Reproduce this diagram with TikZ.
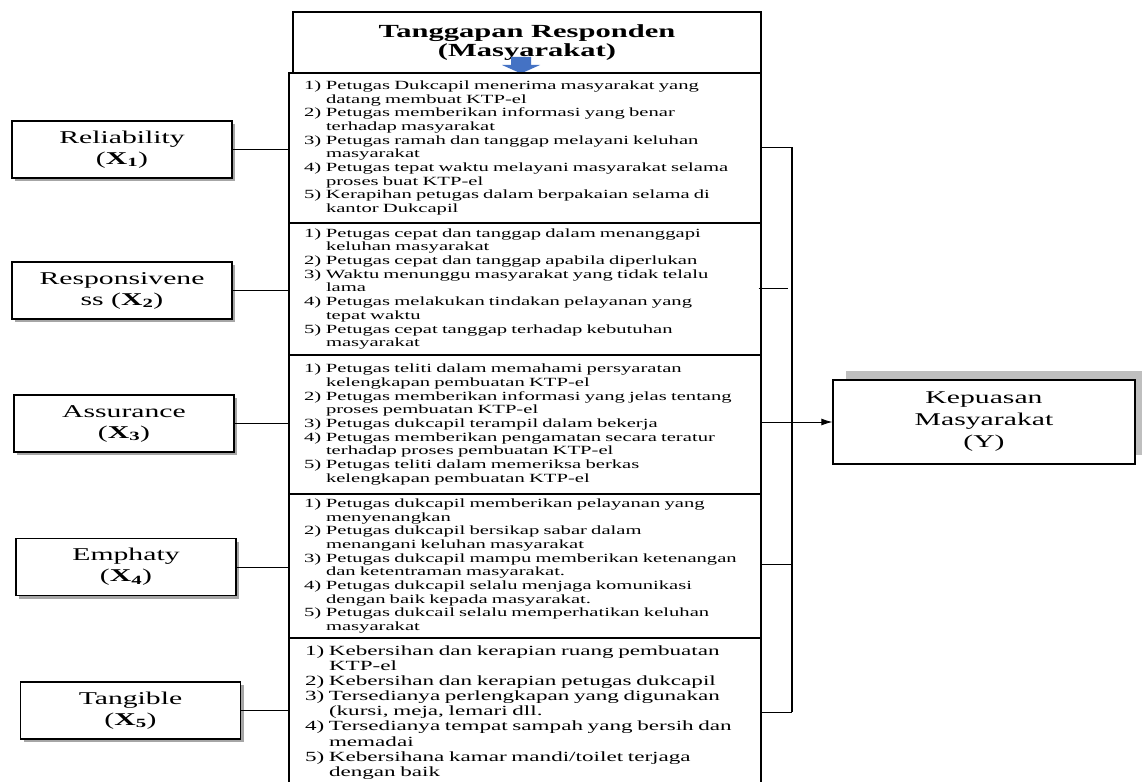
\documentclass[tikz,border=0pt]{standalone}
\usepackage{fontspec}
\setmainfont[FakeStretch=1.65]{Liberation Serif}
\usepackage{tikz}
\usetikzlibrary{shadows,arrows.meta}
\definecolor{arrowblue}{RGB}{68,114,196}
\newcommand{\nr}[1]{\makebox[24pt][l]{\hspace{2pt}#1}}
\newcommand{\nx}{\hspace*{24pt}}
\newcommand{\nrb}[1]{\makebox[27pt][l]{\hspace{3pt}#1}}
\newcommand{\nxb}{\hspace*{27pt}}

\begin{document}
\begin{tikzpicture}[x=1pt, y=-1pt,
            factor/.style={draw, line width=1.3pt, fill=white, minimum width=220pt, minimum height=57pt, inner sep=2pt, align=center, font=\fontsize{18}{21}\selectfont, drop shadow={shadow xshift=3pt, shadow yshift=-3pt, fill=black!35, opacity=1}},
            titlebox/.style={draw, line width=1.3pt, fill=white, minimum width=468pt, minimum height=61pt, align=center, font=\bfseries\fontsize{18.5}{19}\selectfont},
            itembox/.style={draw, line width=1.4pt, fill=white, text width=446pt, inner xsep=13pt, inner ysep=0pt, align=left, font=\fontsize{12.5}{13.7}\selectfont},
            itembig/.style={itembox, font=\fontsize{14}{15.1}\selectfont},
            result/.style={draw, line width=1.3pt, fill=white, minimum width=302pt, minimum height=84pt, align=center, font=\fontsize{18}{22}\selectfont, drop shadow={shadow xshift=13pt, shadow yshift=9pt, fill=black!25, opacity=1}},
            conn/.style={line width=0.9pt},
            bus/.style={line width=1.3pt}
        ]

    \useasboundingbox (0,0) rectangle (1142,781);

    \node[titlebox] (ttl) at (527,42.5) {Tanggapan Responden\\(Masyarakat)};
    \fill[arrowblue] (511,57) -- (531,57) -- (531,65) -- (540,65) -- (521,73.5) -- (502,65) -- (511,65) -- cycle;

    \node[itembox, minimum height=150pt] (b1) at (525,148) {\nr{1)}Petugas Dukcapil menerima masyarakat yang\\
        \nx datang membuat KTP-el\\
        \nr{2)}Petugas memberikan informasi yang benar\\
        \nx terhadap masyarakat\\
        \nr{3)}Petugas ramah dan tanggap melayani keluhan\\
        \nx masyarakat\\
        \nr{4)}Petugas tepat waktu melayani masyarakat selama\\
        \nx proses buat KTP-el\\
        \nr{5)}Kerapihan petugas dalam berpakaian selama di\\
        \nx kantor Dukcapil};
    \node[itembox, minimum height=132pt] (b2) at (525,289) {\nr{1)}Petugas cepat dan tanggap dalam menanggapi\\
        \nx keluhan masyarakat\\
        \nr{2)}Petugas cepat dan tanggap apabila diperlukan\\
        \nr{3)}Waktu menunggu masyarakat yang tidak telalu\\
        \nx lama\\
        \nr{4)}Petugas melakukan tindakan pelayanan yang\\
        \nx tepat waktu\\
        \nr{5)}Petugas cepat tanggap terhadap kebutuhan\\
        \nx masyarakat};
    \node[itembox, minimum height=139pt] (b3) at (525,424.5) {\nr{1)}Petugas teliti dalam memahami persyaratan\\
        \nx kelengkapan pembuatan KTP-el\\
        \nr{2)}Petugas memberikan informasi yang jelas tentang\\
        \nx proses pembuatan KTP-el\\
        \nr{3)}Petugas dukcapil terampil dalam bekerja\\
        \nr{4)}Petugas memberikan pengamatan secara teratur\\
        \nx terhadap proses pembuatan KTP-el\\
        \nr{5)}Petugas teliti dalam memeriksa berkas\\
        \nx kelengkapan pembuatan KTP-el};
    \node[itembox, minimum height=144pt] (b4) at (525,566) {\nr{1)}Petugas dukcapil memberikan pelayanan yang\\
        \nx menyenangkan\\
        \nr{2)}Petugas dukcapil bersikap sabar dalam\\
        \nx menangani keluhan masyarakat\\
        \nr{3)}Petugas dukcapil mampu memberikan ketenangan\\
        \nx dan ketentraman masyarakat.\\
        \nr{4)}Petugas dukcapil selalu menjaga komunikasi\\
        \nx dengan baik kepada masyarakat.\\
        \nr{5)}Petugas dukcail selalu memperhatikan keluhan\\
        \nx masyarakat};
    \node[itembig, minimum height=149pt] (b5) at (525,712.5) {\nrb{1)}Kebersihan dan kerapian ruang pembuatan\\
        \nxb KTP-el\\
        \nrb{2)}Kebersihan dan kerapian petugas dukcapil\\
        \nrb{3)}Tersedianya perlengkapan yang digunakan\\
        \nxb (kursi, meja, lemari dll.\\
        \nrb{4)}Tersedianya tempat sampah yang bersih dan\\
        \nxb memadai\\
        \nrb{5)}Kebersihana kamar mandi/toilet terjaga\\
        \nxb dengan baik};

    \node[factor] (rel)  at (122,149.5) {Reliability\\(\textbf{X\textsubscript{1}})};
    \node[factor] (resp) at (122,290.5) {Responsivene\\ss (\textbf{X\textsubscript{2}})};
    \node[factor] (asr)  at (124,423.5) {Assurance\\(\textbf{X\textsubscript{3}})};
    \node[factor] (emp)  at (126,567)   {Emphaty\\(\textbf{X\textsubscript{4}})};
    \node[factor] (tan)  at (130.5,710.5) {Tangible\\(\textbf{X\textsubscript{5}})};

    \node[result] (kep) at (984,422) {Kepuasan\\Masyarakat\\(Y)};

    \draw[conn] (rel.east)  -- (rel.east -| b1.west);
    \draw[conn] (resp.east) -- (resp.east -| b2.west);
    \draw[conn] (asr.east)  -- (asr.east -| b3.west);
    \draw[conn] (emp.east)  -- (emp.east -| b4.west);
    \draw[conn] (tan.east)  -- (tan.east -| b5.west);

    \coordinate (j1) at (792,147);
    \coordinate (j2) at (792,288);
    \coordinate (j4) at (792,564);
    \coordinate (j5) at (792,712);

    \draw[bus]  (j1) -- (j5);
    \draw[conn] (b1.east |- j1) -- (j1);
    \draw[conn] ([xshift=-3pt]b2.east |- j2) -- ([xshift=-4pt]j2);
    \draw[conn, -{Latex[length=11pt, width=7pt]}] (b3.east |- kep.west) -- (kep.west);
    \draw[conn] (b4.east |- j4) -- (j4);
    \draw[conn] (b5.east |- j5) -- (j5);

        \end{tikzpicture}
\end{document}
